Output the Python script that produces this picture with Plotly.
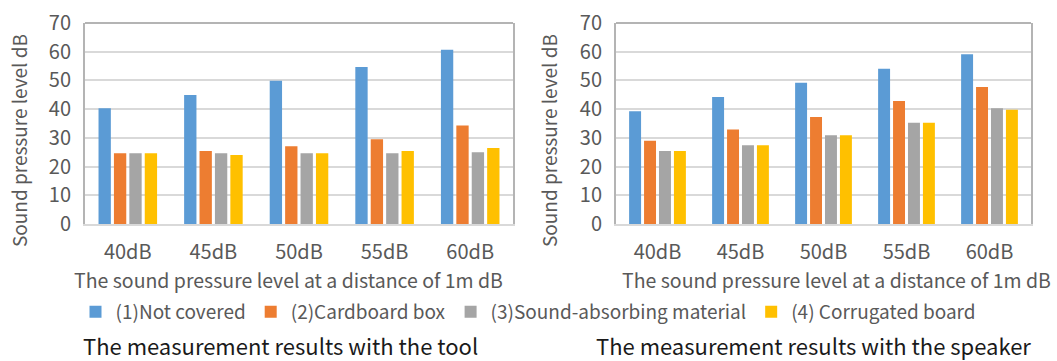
import plotly.graph_objects as go

# Source levels measured at 1 m
categories = ["40dB", "45dB", "50dB", "55dB", "60dB"]
series_names = ["(1)Not covered", "(2)Cardboard box",
                "(3)Sound-absorbing material", "(4) Corrugated board"]
series_colors = ["#5b9bd5", "#ed7d31", "#a5a5a5", "#ffc000"]

# Measurement results with the tool (dB)
tool_not_covered = [40.3, 44.9, 49.9, 54.7, 60.7]
tool_cardboard = [24.6, 25.4, 27.1, 29.5, 34.3]
tool_absorbing = [24.6, 24.6, 24.6, 24.6, 25.0]
tool_corrugated = [24.6, 24.0, 24.6, 25.4, 26.5]

# Measurement results with the speaker (dB)
spk_not_covered = [39.3, 44.2, 49.2, 54.1, 59.1]
spk_cardboard = [29.0, 32.9, 37.3, 42.8, 47.7]
spk_absorbing = [25.4, 27.4, 30.9, 35.3, 40.3]
spk_corrugated = [25.4, 27.4, 30.9, 35.3, 39.8]

tool_series = [tool_not_covered, tool_cardboard, tool_absorbing, tool_corrugated]
spk_series = [spk_not_covered, spk_cardboard, spk_absorbing, spk_corrugated]

FONT = "Noto Sans CJK JP"
TICK_COLOR = "#595959"
W, H = 1057, 361

fig = go.Figure()
for name, color, vals in zip(series_names, series_colors, tool_series):
    fig.add_trace(go.Bar(x=categories, y=vals, name=name, marker_color=color,
                         marker_line_width=0, xaxis="x", yaxis="y",
                         legendgroup=name))
for name, color, vals in zip(series_names, series_colors, spk_series):
    fig.add_trace(go.Bar(x=categories, y=vals, name=name, marker_color=color,
                         marker_line_width=0, xaxis="x2", yaxis="y2",
                         legendgroup=name, showlegend=False))

ydom = [1 - 224 / H, 1 - 23 / H]
xdom1 = [85 / W, 513 / W]
xdom2 = [616 / W, 1031 / W]

common_x = dict(type="category", showgrid=False, showline=True,
                linecolor="#d9d9d9", linewidth=2, ticks="", automargin=False,
                tickfont=dict(family=FONT, size=20, color=TICK_COLOR),
                ticklabelstandoff=9)
common_y = dict(range=[0, 70], dtick=10, showgrid=True, gridcolor="#d9d9d9",
                gridwidth=2, zeroline=False, showline=True, mirror=True,
                linecolor="#b4b4b4", linewidth=2, ticks="", automargin=False,
                tickfont=dict(family=FONT, size=20, color=TICK_COLOR),
                ticklabelstandoff=8)

fig.update_layout(
    width=W, height=H,
    margin=dict(l=0, r=0, t=0, b=0, autoexpand=False),
    paper_bgcolor="white", plot_bgcolor="white",
    barmode="group", bargap=0.28, bargroupgap=0.2,
    font=dict(family=FONT, color=TICK_COLOR),
    xaxis=dict(domain=xdom1, anchor="y", **common_x),
    yaxis=dict(domain=ydom, anchor="x", **common_y),
    xaxis2=dict(domain=xdom2, anchor="y2", **common_x),
    yaxis2=dict(domain=ydom, anchor="x2", **common_y),
    legend=dict(orientation="h", x=0.5, xanchor="center",
                y=1 - 312 / H, yanchor="middle",
                font=dict(family=FONT, size=19, color=TICK_COLOR),
                itemwidth=30, bgcolor="rgba(0,0,0,0)"),
    showlegend=True,
)

# top edge of each plot area
for xr, yr in (("x domain", "y domain"), ("x2 domain", "y2 domain")):
    fig.add_shape(type="line", xref=xr, yref=yr, x0=0, x1=1, y0=1, y1=1,
                  line=dict(color="#b4b4b4", width=2), layer="above")

annos = []
for xc in (18, 548):
    annos.append(dict(text="Sound pressure level dB", x=xc / W, y=1 - 141 / H,
                      xref="paper", yref="paper", textangle=-90,
                      showarrow=False, xanchor="center", yanchor="middle",
                      font=dict(family=FONT, size=19, color=TICK_COLOR)))
for xc in (288, 836):
    annos.append(dict(text="The sound pressure level at a distance of 1m dB",
                      x=xc / W, y=1 - 279 / H, xref="paper", yref="paper",
                      showarrow=False, xanchor="center", yanchor="middle",
                      font=dict(family=FONT, size=19.5, color=TICK_COLOR)))
for xc, txt in ((280, "The measurement results with the tool"),
                (813, "The measurement results with the speaker")):
    annos.append(dict(text=txt, x=xc / W, y=1 - 345 / H, xref="paper",
                      yref="paper", showarrow=False, xanchor="center",
                      yanchor="middle",
                      font=dict(family=FONT, size=22, color="#1a1a1a")))
fig.update_layout(annotations=annos)

fig.write_html("out.html")
